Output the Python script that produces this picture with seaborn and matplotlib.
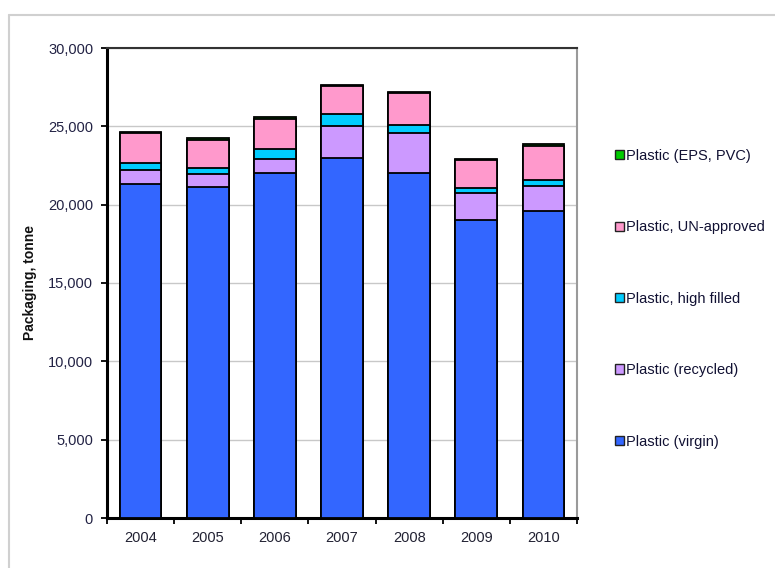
import matplotlib
matplotlib.use("Agg")
import matplotlib.pyplot as plt
import seaborn as sns
import numpy as np
import pandas as pd
from matplotlib.lines import Line2D
from matplotlib.ticker import FixedLocator, FuncFormatter

years = ["2004", "2005", "2006", "2007", "2008", "2009", "2010"]
virgin = [21300, 21150, 22000, 22960, 22000, 19020, 19620]
recycled = [900, 790, 900, 2060, 2600, 1700, 1570]
high_filled = [450, 380, 630, 750, 490, 320, 380]
un_approved = [1930, 1810, 1940, 1830, 2020, 1810, 2170]
eps_pvc = [80, 100, 110, 60, 80, 60, 130]

series_names = ["Plastic (virgin)", "Plastic (recycled)", "Plastic, high filled",
                "Plastic, UN-approved", "Plastic (EPS, PVC)"]
series_vals = [virgin, recycled, high_filled, un_approved, eps_pvc]
colors = ["#3366FF", "#CC99FF", "#00CCFF", "#FF99CC", "#00CC00"]

sns.set_theme(style="white")
plt.rcParams['font.family'] = ['Liberation Sans', 'DejaVu Sans']

fig = plt.figure(figsize=(7.75, 5.68), dpi=100)
ax = fig.add_axes([107/775, 1-518/568, (577-107)/775, (518-48)/568])

cum = np.cumsum(np.array(series_vals), axis=0)
# draw from top cumulative to bottom so lower segments overlay
for i in range(len(series_names) - 1, -1, -1):
    df = pd.DataFrame({"year": years, "value": cum[i]})
    sns.barplot(data=df, x="year", y="value", color=colors[i], saturation=1,
                width=0.62, edgecolor="black", linewidth=1.3, ax=ax, zorder=3)

ax.set_ylim(0, 30000)
ax.set_xlim(-0.5, 6.5)
ax.yaxis.set_major_locator(FixedLocator(np.arange(0, 30001, 5000)))
ax.yaxis.set_major_formatter(FuncFormatter(lambda v, p: f"{int(v):,}"))
ax.grid(axis="y", color="#c8c8c8", linewidth=1, zorder=0)
ax.set_axisbelow(True)

ax.set_xticks(np.arange(-0.5, 7, 1))
ax.set_xticklabels([])
ax.set_xticks(np.arange(0, 7), minor=True)
ax.set_xticklabels(years, minor=True)
ax.tick_params(axis="x", which="major", length=4, width=1.3, color="black", direction="out", bottom=True)
ax.tick_params(axis="x", which="minor", length=0, pad=9, labelsize=10.5, labelcolor="#222233")
ax.tick_params(axis="y", length=4, width=1.3, color="black", direction="out", left=True,
               labelsize=10.5, labelcolor="#222244", pad=6)
ax.set_xlabel("")
ax.set_ylabel("Packaging, tonne", fontsize=10, fontweight="bold", color="#111111", labelpad=8)

for s in ["left", "bottom"]:
    ax.spines[s].set_color("black")
    ax.spines[s].set_linewidth(2.2)
ax.spines["top"].set_color("#333333")
ax.spines["top"].set_linewidth(1.5)
ax.spines["right"].set_color("#9a9a9a")
ax.spines["right"].set_linewidth(1.5)
for s in ax.spines.values():
    s.set_visible(True)

handles = [plt.Rectangle((0, 0), 1, 1, facecolor=colors[i], edgecolor="#222222", linewidth=1)
           for i in range(len(series_names))][::-1]
labels = series_names[::-1]
leg = fig.legend(handles, labels, loc="upper left", bbox_to_anchor=(609/775, 1-143/568),
                 frameon=False, fontsize=10.5, handlelength=0.6, handleheight=0.6,
                 handletextpad=0.2, labelspacing=3.94, borderaxespad=0)
for t in leg.get_texts():
    t.set_color("#111133")

# outer chart border
fig.add_artist(Line2D([9/775, 9/775], [0, 1-15/568], transform=fig.transFigure,
                      color="#d0d0d0", linewidth=1.5))
fig.add_artist(Line2D([9/775, 1], [1-15/568, 1-15/568], transform=fig.transFigure,
                      color="#d0d0d0", linewidth=1.5))

fig.savefig("out.png", dpi=100)
